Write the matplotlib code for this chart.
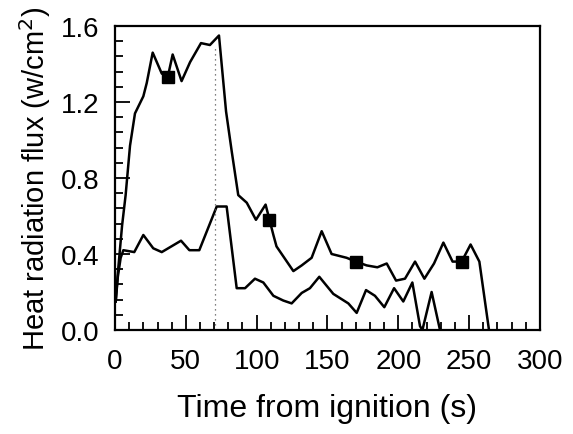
import matplotlib
matplotlib.use("Agg")
import matplotlib.pyplot as plt
from matplotlib.ticker import MultipleLocator

plt.rcParams['font.family'] = ['Liberation Sans', 'DejaVu Sans']

# Upper curve
t_upper = [0.5, 2, 5, 7.5, 10.6, 14.1, 20, 22.4, 26.6, 33, 37.2, 40.7, 47, 53, 60.7, 67, 73.4,
           78.4, 82.4, 87, 93, 99.5, 106.3, 111.8, 114, 125.9, 131.8, 138.8, 145.9, 152.9,
           163.5, 170.1, 177.6, 185.2, 191.8, 198.4, 204.7, 211.8, 218.4, 225.2, 231.8,
           238.3, 244.7, 251, 257.2, 264]
q_upper = [0.15, 0.3, 0.55, 0.71, 0.97, 1.14, 1.23, 1.30, 1.46, 1.35, 1.33, 1.45, 1.31, 1.41,
           1.51, 1.50, 1.55, 1.15, 0.94, 0.71, 0.67, 0.58, 0.66, 0.50, 0.44, 0.31, 0.34,
           0.38, 0.52, 0.40, 0.38, 0.36, 0.34, 0.33, 0.35, 0.26, 0.27, 0.36, 0.27, 0.35,
           0.46, 0.36, 0.36, 0.45, 0.36, 0.0]

# Lower curve
t_lower = [0.5, 2, 4, 5.9, 13.6, 20, 27, 33, 46.6, 52.5, 59.5, 71.8, 78.8, 85.9, 91.8, 98.8,
           104.7, 111.8, 118.8, 124.7, 131.8, 137.6, 144.2, 154.1, 164.7, 170.6, 177.2,
           183.5, 190.1, 197, 203.5, 209.9, 215.3, 217, 223.5, 229.4]
q_lower = [0.15, 0.28, 0.38, 0.42, 0.41, 0.50, 0.43, 0.41, 0.47, 0.42, 0.42, 0.65, 0.65,
           0.22, 0.22, 0.27, 0.25, 0.18, 0.155, 0.14, 0.195, 0.22, 0.28, 0.19, 0.14, 0.09,
           0.21, 0.18, 0.12, 0.22, 0.15, 0.25, 0.02, 0.0, 0.20, 0.0]

# Square markers on the upper curve
t_marker = [37.2, 109, 170.1, 244.7]
q_marker = [1.33, 0.58, 0.36, 0.36]

# Dotted vertical line
t_vline = 70.6
q_vline_top = 1.5

xticks = [0, 50, 100, 150, 200, 250, 300]
yticks = [0.0, 0.4, 0.8, 1.2, 1.6]
ytick_labels = ['0.0', '0.4', '0.8', '1.2', '1.6']

fig = plt.figure(figsize=(5.73, 4.35), dpi=100)
ax = fig.add_axes([0.2007, 0.2391, 0.7417, 0.6988])

ax.plot(t_upper, q_upper, color='black', lw=1.8)
ax.plot(t_lower, q_lower, color='black', lw=1.8)
ax.plot(t_marker, q_marker, linestyle='none', marker='s', color='black', markersize=8.5)
ax.plot([t_vline, t_vline], [0, q_vline_top], color='#555555', lw=0.9, linestyle=(0, (1, 3)))

ax.set_xlim(0, 300)
ax.set_ylim(0, 1.6)
ax.set_xticks(xticks)
ax.set_yticks(yticks)
ax.set_yticklabels(ytick_labels)
ax.xaxis.set_minor_locator(MultipleLocator(10))
ax.yaxis.set_minor_locator(MultipleLocator(0.08))

ax.tick_params(which='both', direction='in', top=False, right=False, width=1.3,
               labelsize=20)
ax.tick_params(axis='x', pad=13)
ax.tick_params(axis='y', pad=11)
ax.tick_params(which='major', length=11)
ax.tick_params(which='minor', length=6)
for s in ax.spines.values():
    s.set_linewidth(1.6)

ax.set_xlabel('Time from ignition (s)', fontsize=23, labelpad=14)
ax.set_ylabel('Heat radiation flux (w/cm$^2$)', fontsize=21, labelpad=6)

fig.savefig('out.png', dpi=100)
